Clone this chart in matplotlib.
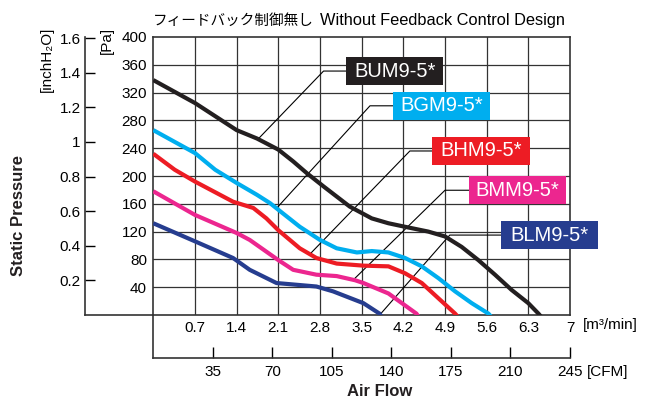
import matplotlib
matplotlib.use("Agg")
import matplotlib.pyplot as plt
from matplotlib import font_manager
from matplotlib.patches import Rectangle
import numpy as np

plt.rcParams['font.family'] = ['Liberation Sans', 'DejaVu Sans']

# P-Q curves: air flow [m3/min] vs static pressure [Pa]
bum_q = [0, 0.7, 1.4, 1.74, 2.1, 2.35, 2.58, 2.86, 3.3, 3.67, 3.95, 4.28, 4.62, 4.9, 5.18, 5.46, 5.74, 6.02, 6.3, 6.47, 6.52]
bum_p = [338, 305, 266, 254, 238, 221, 204, 185, 156, 139, 132, 126, 120, 113, 98, 79, 58, 36, 17, 2, -3]

bgm_q = [0, 0.7, 1.04, 1.4, 1.74, 1.96, 2.18, 2.46, 2.8, 3.08, 3.42, 3.67, 3.95, 4.23, 4.51, 4.79, 5.07, 5.35, 5.63, 5.68]
bgm_p = [266, 233, 209, 190, 173, 161, 146, 127, 108, 96, 90, 92, 90, 82, 70, 53, 34, 17, 2, -3]

bhm_q = [0, 0.36, 0.7, 1.34, 1.68, 1.9, 2.1, 2.46, 2.74, 3.08, 3.53, 3.95, 4.23, 4.51, 4.79, 5.07, 5.12]
bhm_p = [232, 209, 192, 163, 154, 139, 122, 96, 82, 74, 71, 70, 60, 46, 24, 2, -3]

bmm_q = [0, 0.7, 1.4, 1.62, 2.1, 2.35, 2.74, 3.08, 3.39, 3.53, 3.95, 4.42, 4.46]
bmm_p = [178, 144, 118, 108, 79, 65, 58, 56, 50, 46, 31, 2, -3]

blm_q = [0, 0.7, 1.34, 1.62, 2.07, 2.74, 3.02, 3.53, 3.8, 3.84]
blm_p = [132, 106, 82, 65, 46, 41, 34, 17, 2, -3]

series = [
    ('BUM9-5*', bum_q, bum_p, '#231f20'),
    ('BGM9-5*', bgm_q, bgm_p, '#00aeef'),
    ('BHM9-5*', bhm_q, bhm_p, '#ed1c24'),
    ('BMM9-5*', bmm_q, bmm_p, '#ec268f'),
    ('BLM9-5*', blm_q, blm_p, '#263d8f'),
]

# label boxes: (left flow, centre Pa), leader start flow on curve, elbow
box_left = [3.24, 4.03, 4.69, 5.30, 5.84]
box_mid = [351, 301, 236, 179.5, 115]
lead_q = [1.76, 2.07, 2.63, 3.36, 3.81]
elbow_q = [2.86, 3.64, 4.31, 4.90, 4.98]

q_ticks = [0.7, 1.4, 2.1, 2.8, 3.5, 4.2, 4.9, 5.6, 6.3, 7]
pa_ticks = [40, 80, 120, 160, 200, 240, 280, 320, 360, 400]
inch_ticks = [0.2, 0.4, 0.6, 0.8, 1.0, 1.2, 1.4, 1.6]
cfm_ticks = [35, 70, 105, 140, 175, 210, 245]

fig = plt.figure(figsize=(6.53, 4.0), dpi=100)
ax = fig.add_axes([153.3 / 653, 85 / 400, 416.7 / 653, 278 / 400])
ax.set_xlim(0, 7)
ax.set_ylim(0, 400)

for x in q_ticks[:-1]:
    ax.axvline(x, color='#333333', lw=0.9, zorder=1)
for y in pa_ticks[:-1]:
    ax.axhline(y, color='#333333', lw=0.9, zorder=1)
for s in ax.spines.values():
    s.set_linewidth(1.2)
    s.set_color('#333333')

for (name, q, p, c), bl, bm, lq, eq in zip(series, box_left, box_mid, lead_q, elbow_q):
    ax.plot(q, p, color=c, lw=3, solid_capstyle='butt', zorder=3)
    lp = np.interp(lq, q, p)
    ax.plot([lq, eq, bl], [lp, bm, bm], color='black', lw=0.8, zorder=2, clip_on=False)
    ax.add_patch(Rectangle((bl, bm - 20.2), 1.634, 40.4, facecolor=c, edgecolor='none',
                           zorder=4, clip_on=False))
    ax.text(bl + 0.817, bm, name, color='white', fontsize=14.5, ha='center', va='center',
            zorder=5, clip_on=False)

ax.set_xticks(q_ticks)
ax.set_xticklabels(['%g' % v for v in q_ticks])
ax.set_yticks(pa_ticks)
ax.set_yticklabels(['%g' % v for v in pa_ticks])
ax.tick_params(length=0, labelsize=11)
ax.tick_params(axis='y', pad=4.5)
ax.tick_params(axis='x', pad=4)

# inchH2O axis
inch = ax.secondary_yaxis(-0.164, functions=(lambda p: p / 249.09, lambda i: i * 249.09))
inch.set_yticks(inch_ticks)
inch.set_yticklabels(['%g' % v for v in inch_ticks])
inch.tick_params(direction='in', length=7, width=1, labelsize=11, pad=3)
inch.spines['left'].set_linewidth(1.2)
inch.spines['left'].set_color('#333333')
ax.plot([-0.164, 0], [0, 0], transform=ax.transAxes, color='#333333', lw=1.2, clip_on=False)

# CFM axis
cfm = ax.secondary_xaxis(-0.155, functions=(lambda q: q * 35, lambda c: c / 35))
cfm.set_xticks(cfm_ticks)
cfm.set_xticklabels(['%g' % v for v in cfm_ticks])
cfm.tick_params(direction='in', length=8, width=1, labelsize=11, pad=5)
cfm.spines['bottom'].set_linewidth(1.2)
cfm.spines['bottom'].set_color('#333333')
ax.plot([0, 0], [0, -0.155], transform=ax.transAxes, color='#333333', lw=1.2, clip_on=False)

# texts
fig.text(18.5 / 653, 1 - 215 / 400, 'Static Pressure', rotation=90, ha='center', va='center',
         fontsize=12, fontweight='bold', color='#231f20')
fig.text(47 / 653, 1 - 59 / 400, '[inchH₂O]', rotation=90, ha='center', va='center', fontsize=11)
fig.text(107 / 653, 1 - 40 / 400, '[Pa]', rotation=90, ha='center', va='center', fontsize=11)
fig.text(583 / 653, 1 - 325 / 400, '[m³/min]', ha='left', va='center', fontsize=11)
fig.text(587 / 653, 1 - 372 / 400, '[CFM]', ha='left', va='center', fontsize=11)
fig.text(380 / 653, 1 - 391 / 400, 'Air Flow', ha='center', va='center',
         fontsize=12, fontweight='bold', color='#231f20')

try:
    font_manager.findfont('Liberation Sans Narrow', fallback_to_default=False)
    en_family, en_size = ['Liberation Sans Narrow'], 14.5
except Exception:
    en_family, en_size = ['Liberation Sans'], 11.8
fig.text(153 / 653, 1 - 21 / 400, 'フィードバック制御無し', family=['Noto Sans CJK JP'],
         fontsize=10.5, ha='left', va='center')
fig.text(320 / 653, 1 - 21 / 400, 'Without Feedback Control Design', family=en_family,
         fontsize=en_size, ha='left', va='center')

fig.savefig('out.png', dpi=100)
